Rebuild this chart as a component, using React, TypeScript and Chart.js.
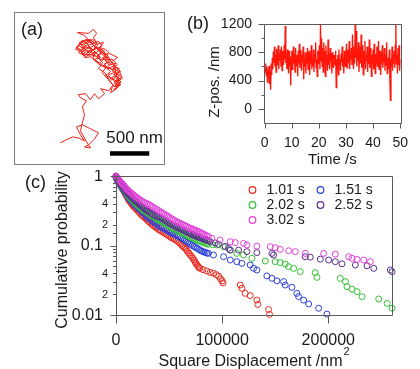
import { useEffect, useRef } from 'react';
import { Chart, registerables } from 'chart.js';

Chart.register(...registerables);

const FONT = '"Liberation Sans", Arial, Helvetica, sans-serif';
const TEXT = '#1a1a1a';
const AXIS = '#5a5a5a';

// ---------- (a) lateral trajectory, nm ----------
const TRAJ_X_NM = [
  589, 666, 742, 819, 896, 845, 794, 870, 973, 1075,
  1024, 947, 896, 973, 922, 845, 870, 896, 870, 922,
  845, 819, 909, 973, 1024, 1075, 1152, 1101, 1203, 1254,
  1229, 1306, 1280, 1344, 1267, 1357, 1293, 1242, 1318, 1216,
  1165, 1088, 1139, 1037, 986, 909, 832, 781, 883, 960,
  1037, 1101, 1011, 1088, 1178, 1229, 1165, 1254, 1331, 1280,
  1216, 1152, 1075, 1126, 1050, 973, 896, 819, 922, 998,
  1062, 1011, 1050, 1011, 947, 806, 896, 973, 1075, 1190,
  1254, 1331, 1370, 1306, 1357, 1267,
  1330, 1290, 1360, 1300, 1240, 1200, 1280, 1340, 1260, 1190,
  1150, 1230, 1180, 1100, 1060, 1140, 1080, 1000, 940, 1020,
  960, 880, 820, 900, 860, 960, 1040, 1000, 1090, 1150,
  1210, 1290, 1250, 1330, 1380, 1310, 1350, 1270, 1230, 1180,
  1120, 1170, 1100, 1040, 980, 900, 850, 790, 850, 930,
  1000, 1070, 1120, 1060, 1130, 1200, 1160, 1250, 1310, 1260,
  1330, 1290, 1360, 1300,
  1318, 1242, 1306, 1229, 1139, 1203, 1126, 1050, 922, 986, 858, 947,
  900, 860, 830, 880, 920, 980, 1010, 960, 900, 850,
  800, 840, 890, 940, 1000, 1050, 1020, 1080, 1040, 980,
  930, 880, 940, 1000, 1060, 1110, 1090, 1140, 1170, 1120,
  1180, 1230, 1190, 1260, 1300, 1280, 1340, 1300, 1350, 1310,
];
const TRAJ_Y_NM = [
  282, 320, 358, 346, 307, 384, 486, 512, 461, 410,
  333, 256, 230, 218, 294, 435, 538, 640, 742, 819,
  858, 896, 909, 832, 909, 845, 909, 973, 947, 1011,
  922, 973, 1050, 1101, 1152, 1190, 1254, 1318, 1370, 1421,
  1472, 1498, 1562, 1536, 1587, 1600, 1536, 1472, 1446, 1510,
  1434, 1370, 1344, 1293, 1242, 1190, 1139, 1101, 1050, 998,
  1075, 1178, 1229, 1306, 1382, 1408, 1485, 1434, 1382, 1459,
  1523, 1626, 1677, 1728, 1677, 1690, 1651, 1562, 1472, 1395,
  1280, 1216, 1126, 1075, 1024, 960,
  1000, 1060, 1090, 1130, 1080, 1150, 1180, 1230, 1260, 1220,
  1290, 1320, 1380, 1340, 1400, 1440, 1500, 1460, 1520, 1560,
  1600, 1570, 1520, 1480, 1420, 1400, 1440, 1360, 1300, 1360,
  1270, 1300, 1200, 1160, 1110, 1060, 1020, 1000, 1050, 1110,
  1180, 1240, 1270, 1320, 1380, 1370, 1450, 1500, 1560, 1590,
  1540, 1580, 1520, 1470, 1400, 1420, 1340, 1350, 1280, 1230,
  1190, 1120, 1060, 980,
  1011, 1114, 1152, 1229, 1267, 1331, 1434, 1498, 1421, 1485, 1498, 1536,
  1560, 1520, 1560, 1590, 1550, 1570, 1520, 1490, 1510, 1470,
  1500, 1540, 1530, 1580, 1600, 1560, 1500, 1470, 1420, 1440,
  1460, 1420, 1400, 1410, 1380, 1420, 1480, 1460, 1400, 1360,
  1320, 1290, 1250, 1210, 1250, 1170, 1140, 1090, 1050, 1020,
];
const SCALE_BAR_NM = 500;
const SCALE_BAR_LABEL = '500 nm';

// ---------- (b) Z position vs time ----------
const FRAME_INTERVAL_S = 0.2;
const Z_POS_NM = [
  580, 520, 640, 470, 600, 380, 560, 430, 610, 350,
  520, 270, 640, 480, 720, 560, 810, 650, 880, 600,
  760, 520, 850, 700, 620, 900, 560, 780, 680, 840,
  600, 880, 540, 760, 820, 620, 900, 700, 1170, 650,
  780, 560, 840, 660, 500, 820, 600, 740, 330, 680,
  820, 560, 720, 880, 640, 780, 520, 860, 700, 600,
  760, 460, 820, 640, 920, 580, 700, 830, 540, 760,
  660, 880, 420, 720, 600, 800, 500, 740, 640, 860,
  560, 700, 820, 480, 760, 640, 900, 560, 720, 600,
  840, 520, 780, 660, 940, 580, 700, 460, 820, 640,
  760, 900, 560, 1200, 680, 1000, 600, 860, 520, 940,
  700, 820, 460, 900, 640, 760, 540, 980, 620, 780,
  560, 860, 680, 720, 500, 800, 640, 580, 760, 680,
  620, 820, 300, 700, 560, 760, 480, 840, 620, 700,
  540, 780, 660, 880, 600, 720, 500, 820, 680, 600,
  760, 920, 580, 700, 840, 640, 960, 560, 780, 700,
  860, 620, 1050, 700, 560, 880, 640, 1200, 720, 1100,
  600, 820, 680, 940, 520, 760, 880, 640, 1050, 580,
  900, 700, 480, 820, 640, 960, 560, 760, 680, 880,
  520, 800, 640, 980, 580, 720, 860, 460, 760, 640,
  840, 560, 920, 680, 500, 780, 640, 880, 600, 740,
  960, 560, 700, 820, 480, 760, 640, 900, 580, 720,
  660, 860, 540, 780, 620, 940, 500, 720, 680, 560,
  840, 400, 120, 700, 600, 880, 540, 760, 640, 820,
  580, 900, 1200, 640, 760, 500, 860, 620, 900, 540,
  700,
];
const TIME_TICKS_S = [0, 10, 20, 30, 40, 50];
const Z_TICKS_NM = [0, 400, 800, 1200];
const Z_MINOR_TICKS_NM = [200, 600, 1000];

// ---------- (c) cumulative probability of square displacement ----------
const LAG_LABELS = ['1.01 s', '1.51 s', '2.02 s', '2.52 s', '3.02 s'];
const CDF_LAG_1_01 = [
  [0, 1.0], [1500, 0.88], [3000, 0.8], [4500, 0.72], [6000, 0.66], [8000, 0.58], [10000, 0.51], [12000, 0.45],
  [14000, 0.41], [16000, 0.37], [18500, 0.34], [21000, 0.31], [23500, 0.28], [26000, 0.26], [28500, 0.24],
  [31000, 0.22], [34000, 0.2], [37000, 0.185], [40000, 0.17], [43000, 0.16], [46000, 0.15], [49000, 0.14],
  [52000, 0.13], [55000, 0.124], [58000, 0.115], [61000, 0.105], [63500, 0.096], [66000, 0.088], [68500, 0.078],
  [71000, 0.07], [73500, 0.062], [75500, 0.055], [77500, 0.05], [79000, 0.047],
  [750, 0.94], [2200, 0.84], [3700, 0.76], [5200, 0.69], [7000, 0.62], [9000, 0.545], [11000, 0.48], [13000, 0.43],
  [15000, 0.39], [17200, 0.355], [19700, 0.325], [22200, 0.295], [24700, 0.27], [27200, 0.25], [29700, 0.23],
  [32500, 0.21], [35500, 0.192], [38500, 0.178], [41500, 0.165], [44500, 0.155], [47500, 0.145], [50500, 0.135],
  [53500, 0.127], [56500, 0.119], [59500, 0.11], [62200, 0.1], [64700, 0.092], [67200, 0.083], [69700, 0.074],
  [72200, 0.066], [74500, 0.058], [76500, 0.052], [78200, 0.048],
  [82000, 0.045], [85500, 0.043],
  [88700, 0.041], [91800, 0.04], [94500, 0.038], [96800, 0.036], [98500, 0.033], [100000, 0.031], [100800, 0.029],
  [117000, 0.027], [118600, 0.0242], [121700, 0.0205], [126400, 0.019], [132700, 0.0164], [133600, 0.0142],
  [143700, 0.012], [144600, 0.0102],
];
const CDF_LAG_1_51 = [
  [0, 0.95], [1500, 0.85], [3000, 0.78], [5000, 0.7], [7000, 0.63], [9000, 0.57], [11000, 0.51], [13000, 0.46],
  [15500, 0.42], [18000, 0.38], [20500, 0.35], [23000, 0.32], [26000, 0.29], [29000, 0.26], [32000, 0.24],
  [35000, 0.22], [38500, 0.2], [42000, 0.185], [45000, 0.175], [48000, 0.165], [51000, 0.155], [54000, 0.148],
  [57000, 0.14], [60000, 0.132], [63000, 0.124], [66000, 0.116], [69000, 0.108], [72000, 0.1], [75000, 0.094],
  [78000, 0.088], [81000, 0.083], [84000, 0.08], [87000, 0.077],
  [750, 0.9], [2200, 0.81], [4000, 0.74], [6000, 0.665], [8000, 0.6], [10000, 0.54], [12000, 0.485], [14200, 0.44],
  [16700, 0.4], [19200, 0.365], [21700, 0.335], [24500, 0.305], [27500, 0.275], [30500, 0.25], [33500, 0.23],
  [36700, 0.21], [40200, 0.192], [43500, 0.18], [46500, 0.17], [49500, 0.16], [52500, 0.151], [55500, 0.144],
  [58500, 0.136], [61500, 0.128], [64500, 0.12], [67500, 0.112], [70500, 0.104], [73500, 0.097], [76500, 0.091],
  [79500, 0.085], [82500, 0.081], [85500, 0.078],
  [91800, 0.073], [101300, 0.069], [107600, 0.0618],
  [113800, 0.0585], [118600, 0.0553], [126400, 0.0524], [129600, 0.0469], [132700, 0.0444], [142100, 0.0365],
  [146900, 0.0337], [151600, 0.031], [157900, 0.0302], [159400, 0.027], [165700, 0.025], [170400, 0.0205],
  [172000, 0.0184], [176700, 0.0164], [181500, 0.0144], [190900, 0.0125], [198700, 0.0103],
];
const CDF_LAG_2_02 = [
  [0, 0.96], [1500, 0.87], [3000, 0.8], [5000, 0.72], [7000, 0.66], [9000, 0.6], [11000, 0.54], [13000, 0.49],
  [15500, 0.45], [18000, 0.41], [20500, 0.38], [23000, 0.35], [26000, 0.32], [29000, 0.3], [32000, 0.28],
  [35000, 0.26], [38500, 0.24], [42000, 0.225], [45000, 0.21], [48000, 0.2], [51000, 0.185], [54000, 0.175],
  [57000, 0.165], [60000, 0.157], [63000, 0.15], [66000, 0.142], [69000, 0.135], [72000, 0.128], [75000, 0.122],
  [78000, 0.117], [81000, 0.112], [84000, 0.108], [87000, 0.104],
  [750, 0.91], [2200, 0.83], [4000, 0.76], [6000, 0.69], [8000, 0.63], [10000, 0.57], [12000, 0.515], [14200, 0.47],
  [16700, 0.43], [19200, 0.395], [21700, 0.365], [24500, 0.335], [27500, 0.31], [30500, 0.29], [33500, 0.27],
  [36700, 0.25], [40200, 0.232], [43500, 0.217], [46500, 0.205], [49500, 0.192], [52500, 0.18], [55500, 0.17],
  [58500, 0.161], [61500, 0.153], [64500, 0.146], [67500, 0.138], [70500, 0.131], [73500, 0.125], [76500, 0.119],
  [79500, 0.114], [82500, 0.11], [85500, 0.106], [91000, 0.103],
  [95000, 0.1017], [101300, 0.096], [107600, 0.086],
  [113800, 0.077], [120100, 0.073], [128000, 0.0653], [140600, 0.0598], [150000, 0.0585], [154700, 0.0566],
  [159400, 0.0541], [162600, 0.0496], [167300, 0.0469], [173600, 0.042], [187700, 0.0407], [189300, 0.0348],
  [211300, 0.0337], [216100, 0.0302], [217600, 0.0256], [222300, 0.0235], [227100, 0.0217], [231800, 0.0184],
  [247500, 0.017], [255400, 0.0147], [260100, 0.0125],
];
const CDF_LAG_2_52 = [
  [0, 0.97], [1500, 0.89], [3000, 0.82], [5000, 0.75], [7000, 0.68], [9000, 0.62], [11000, 0.57], [13000, 0.52],
  [15500, 0.48], [18000, 0.44], [20500, 0.41], [23000, 0.38], [26000, 0.35], [29000, 0.32], [32000, 0.3],
  [35000, 0.28], [38500, 0.265], [42000, 0.25], [45000, 0.235], [48000, 0.22], [51000, 0.205], [54000, 0.195],
  [57000, 0.185], [60000, 0.175], [63000, 0.167], [66000, 0.158], [69000, 0.15], [72000, 0.143], [75000, 0.137],
  [78000, 0.132], [81000, 0.127], [84000, 0.122], [87000, 0.117],
  [750, 0.93], [2200, 0.85], [4000, 0.78], [6000, 0.71], [8000, 0.65], [10000, 0.59], [12000, 0.545], [14200, 0.5],
  [16700, 0.46], [19200, 0.425], [21700, 0.395], [24500, 0.365], [27500, 0.335], [30500, 0.31], [33500, 0.29],
  [36700, 0.272], [40200, 0.257], [43500, 0.242], [46500, 0.227], [49500, 0.212], [52500, 0.2], [55500, 0.19],
  [58500, 0.18], [61500, 0.171], [64500, 0.162], [67500, 0.154], [70500, 0.146], [73500, 0.14], [76500, 0.134],
  [79500, 0.129], [82500, 0.124], [85500, 0.12],
  [88700, 0.1135], [93400, 0.109], [96500, 0.104],
  [102800, 0.097], [106000, 0.091], [107600, 0.086], [115400, 0.086], [123300, 0.0815], [132700, 0.079],
  [146900, 0.077], [148400, 0.073], [178300, 0.069], [183000, 0.068], [192500, 0.0637], [200300, 0.0618],
  [206600, 0.0585], [212900, 0.0545], [225500, 0.0524], [236500, 0.0511], [242800, 0.0469], [258500, 0.0444],
  [260100, 0.042],
];
const CDF_LAG_3_02 = [
  [0, 1.0], [1500, 0.93], [3000, 0.87], [5000, 0.8], [7000, 0.74], [9000, 0.68], [11000, 0.63], [13000, 0.59],
  [15500, 0.55], [18000, 0.51], [20500, 0.48], [23000, 0.45], [26000, 0.42], [29000, 0.4], [32000, 0.38],
  [35000, 0.355], [38500, 0.33], [42000, 0.305], [45000, 0.285], [48000, 0.27], [51000, 0.25], [54000, 0.235],
  [57000, 0.22], [60000, 0.21], [63000, 0.2], [66000, 0.19], [69000, 0.18], [72000, 0.172], [75000, 0.165],
  [78000, 0.158], [81000, 0.15], [84000, 0.142], [87000, 0.135],
  [750, 0.96], [2200, 0.9], [4000, 0.83], [6000, 0.77], [8000, 0.71], [10000, 0.655], [12000, 0.61], [14200, 0.57],
  [16700, 0.53], [19200, 0.495], [21700, 0.465], [24500, 0.435], [27500, 0.41], [30500, 0.39], [33500, 0.368],
  [36700, 0.342], [40200, 0.318], [43500, 0.295], [46500, 0.277], [49500, 0.26], [52500, 0.242], [55500, 0.228],
  [58500, 0.215], [61500, 0.205], [64500, 0.195], [67500, 0.185], [70500, 0.176], [73500, 0.168], [76500, 0.161],
  [79500, 0.154], [82500, 0.146], [85500, 0.138],
  [90300, 0.127], [98100, 0.12], [107600, 0.1135],
  [112300, 0.11], [120100, 0.107], [123300, 0.1017], [132700, 0.098], [145300, 0.096], [150000, 0.093],
  [154700, 0.088], [162600, 0.084], [168900, 0.0815], [178300, 0.077], [195600, 0.077], [206600, 0.075],
  [219200, 0.069], [222300, 0.0653], [227100, 0.063], [233300, 0.0618], [239600, 0.0585],
];
const CDF_SERIES = [CDF_LAG_1_01, CDF_LAG_1_51, CDF_LAG_2_02, CDF_LAG_2_52, CDF_LAG_3_02];
const SD_TICKS_NM2 = [0, 100000, 200000];
const CDF_LABEL_VALUES = [1, 0.4, 0.2, 0.1, 0.04, 0.02, 0.01];
const CDF_LABEL_TEXTS = ['1', '4', '2', '0.1', '4', '2', '0.01'];
const CDF_MAJOR_VALUES = [1, 0.1, 0.01];

const LAG_COLORS = ['#e8281e', '#2b40d6', '#34c134', '#5b2c8f', '#e23fd8'];

const crisp = (v: number) => Math.round(v) + 0.5;

function makeTrajectory(canvas: HTMLCanvasElement) {
  const decor = {
    id: 'trajDecor',
    afterDraw(chart: any) {
      const { ctx, chartArea: a, scales } = chart;
      const x = scales.x;
      const y = scales.y;
      ctx.save();
      ctx.strokeStyle = '#7a7a7a';
      ctx.lineWidth = 1;
      ctx.strokeRect(a.left + 0.5, a.top + 0.5, a.right - a.left - 1, a.bottom - a.top - 1);
      const x0 = x.getPixelForValue(1220);
      const x1 = x.getPixelForValue(1220 + SCALE_BAR_NM);
      const yb = y.getPixelForValue(150);
      ctx.fillStyle = '#000';
      ctx.fillRect(x0, yb - 2, x1 - x0, 4.5);
      ctx.fillStyle = TEXT;
      ctx.font = `17px ${FONT}`;
      ctx.textAlign = 'center';
      ctx.textBaseline = 'middle';
      ctx.fillText(SCALE_BAR_LABEL, (x0 + x1) / 2 + 5, yb - 14.5);
      ctx.textAlign = 'left';
      ctx.font = `18px ${FONT}`;
      ctx.fillText('(a)', 7, 18);
      ctx.restore();
    },
  };
  return new Chart(canvas, {
    type: 'scatter',
    data: {
      datasets: [
        {
          data: TRAJ_X_NM.map((xv, i) => ({ x: xv, y: TRAJ_Y_NM[i] })),
          showLine: true,
          borderColor: 'rgb(240,30,20)',
          borderWidth: 1,
          pointRadius: 0,
          tension: 0,
        },
      ],
    },
    options: {
      animation: false,
      responsive: false,
      layout: { padding: 0 },
      plugins: { legend: { display: false }, tooltip: { enabled: false } },
      scales: {
        x: { type: 'linear', display: false, min: 0, max: 1920 },
        y: { type: 'linear', display: false, min: 0, max: 1950 },
      },
    },
    plugins: [decor],
  } as any);
}

function makeZTrace(canvas: HTMLCanvasElement) {
  const decor = {
    id: 'zDecor',
    afterDatasetsDraw(chart: any) {
      const { ctx, chartArea: a, scales } = chart;
      const x = scales.x;
      const y = scales.y;
      ctx.save();
      ctx.strokeStyle = AXIS;
      ctx.lineWidth = 1;
      const L = crisp(a.left), R = crisp(a.right), T = crisp(a.top), B = crisp(a.bottom);
      ctx.beginPath();
      ctx.moveTo(L, T); ctx.lineTo(R, T); ctx.lineTo(R, B); ctx.lineTo(L, B); ctx.closePath();
      for (const v of Z_TICKS_NM) { const p = crisp(y.getPixelForValue(v)); ctx.moveTo(L - 6, p); ctx.lineTo(L, p); }
      for (const v of Z_MINOR_TICKS_NM) { const p = crisp(y.getPixelForValue(v)); ctx.moveTo(L - 3, p); ctx.lineTo(L, p); }
      for (const v of TIME_TICKS_S) { const p = crisp(x.getPixelForValue(v)); ctx.moveTo(p, B); ctx.lineTo(p, B + 5); }
      ctx.stroke();
      ctx.fillStyle = TEXT;
      ctx.textBaseline = 'middle';
      ctx.textAlign = 'left';
      ctx.font = `18px ${FONT}`;
      ctx.fillText('(b)', 17, 24);
      ctx.font = `15px ${FONT}`;
      ctx.textAlign = 'center';
      ctx.fillText('Time /s', (a.left + a.right) / 2, 160);
      ctx.translate(45, 82);
      ctx.rotate(-Math.PI / 2);
      ctx.fillText('Z-pos. /nm', 0, 0);
      ctx.restore();
    },
  };
  const tickFont = { family: FONT, size: 14 };
  return new Chart(canvas, {
    type: 'scatter',
    data: {
      datasets: [
        {
          data: Z_POS_NM.map((z, i) => ({ x: i * FRAME_INTERVAL_S, y: z })),
          showLine: true,
          borderColor: 'rgb(255,22,10)',
          borderWidth: 1.3,
          pointRadius: 0,
          tension: 0,
        },
      ],
    },
    options: {
      animation: false,
      responsive: false,
      layout: { padding: { top: 24, right: 9, left: 0, bottom: 0 } },
      plugins: { legend: { display: false }, tooltip: { enabled: false } },
      scales: {
        x: {
          type: 'linear', min: -0.25, max: 50.25,
          afterBuildTicks: (s: any) => { s.ticks = TIME_TICKS_S.map((v) => ({ value: v })); },
          afterFit: (s: any) => { s.height = 47; },
          grid: { display: false, drawTicks: false },
          border: { display: false },
          ticks: { font: tickFont, color: TEXT, padding: 12, maxRotation: 0, autoSkip: false, callback: (v: any) => String(v) },
        },
        y: {
          type: 'linear', min: -200, max: 1200,
          afterBuildTicks: (s: any) => { s.ticks = Z_TICKS_NM.map((v) => ({ value: v })); },
          afterFit: (s: any) => { s.width = 94; },
          grid: { display: false, drawTicks: false },
          border: { display: false },
          ticks: { font: tickFont, color: TEXT, padding: 12, autoSkip: false, callback: (v: any) => String(v) },
        },
      },
    },
    plugins: [decor],
  } as any);
}

function makeCdf(canvas: HTMLCanvasElement) {
  const decor = {
    id: 'cdfDecor',
    afterDatasetsDraw(chart: any) {
      const { ctx, chartArea: a, scales } = chart;
      const x = scales.x;
      const y = scales.y;
      ctx.save();
      ctx.strokeStyle = AXIS;
      ctx.lineWidth = 1;
      const L = crisp(a.left), R = crisp(a.right), T = crisp(a.top), B = crisp(a.bottom);
      ctx.beginPath();
      ctx.moveTo(L, T); ctx.lineTo(R, T); ctx.lineTo(R, B); ctx.lineTo(L, B); ctx.closePath();
      for (const t of y.ticks) {
        const v = t.value;
        const lg = Math.log10(v);
        const major = Math.abs(lg - Math.round(lg)) < 1e-6;
        const p = crisp(y.getPixelForValue(v));
        ctx.moveTo(L - (major ? 6 : 3.5), p);
        ctx.lineTo(L, p);
      }
      for (const v of SD_TICKS_NM2) { const p = crisp(x.getPixelForValue(v)); ctx.moveTo(p, B); ctx.lineTo(p, B + 8); }
      ctx.stroke();

      ctx.fillStyle = TEXT;
      ctx.textBaseline = 'middle';
      ctx.textAlign = 'right';
      CDF_LABEL_VALUES.forEach((v, i) => {
        const major = CDF_MAJOR_VALUES.includes(v);
        ctx.font = `${major ? 16 : 11}px ${FONT}`;
        ctx.fillText(CDF_LABEL_TEXTS[i], a.left - (major ? 13 : 8), y.getPixelForValue(v) + 0.5);
      });

      // legend
      ctx.font = `14px ${FONT}`;
      ctx.textAlign = 'left';
      LAG_LABELS.forEach((lab, i) => {
        const col = i % 2;
        const row = Math.floor(i / 2);
        const cx = a.left + 136.5 + col * 68;
        const cy = a.top + 14 + row * 15;
        ctx.beginPath();
        ctx.strokeStyle = LAG_COLORS[i];
        ctx.lineWidth = 1.2;
        ctx.arc(cx, cy, 3.3, 0, Math.PI * 2);
        ctx.stroke();
        ctx.fillStyle = TEXT;
        ctx.fillText(lab, cx + 14, cy + 0.5);
      });

      // titles
      ctx.fillStyle = TEXT;
      ctx.font = `18px ${FONT}`;
      ctx.textAlign = 'left';
      ctx.fillText('(c)', 25, 13);
      ctx.font = `16px ${FONT}`;
      ctx.textAlign = 'center';
      const title = 'Square Displacement /nm';
      const cxTitle = 250.5;
      ctx.fillText(title, cxTitle, 191.5);
      const w = ctx.measureText(title).width;
      ctx.font = `11px ${FONT}`;
      ctx.textAlign = 'left';
      ctx.fillText('2', cxTitle + w / 2 + 1, 181.5);
      ctx.font = `16px ${FONT}`;
      ctx.textAlign = 'center';
      ctx.translate(63, 80);
      ctx.rotate(-Math.PI / 2);
      ctx.fillText('Cumulative probability', 0, 0);
      ctx.restore();
    },
  };
  return new Chart(canvas, {
    type: 'scatter',
    data: {
      datasets: CDF_SERIES.map((pts, i) => ({
        label: LAG_LABELS[i],
        data: pts.map(([v, p]) => ({ x: v, y: p })),
        borderColor: LAG_COLORS[i],
        backgroundColor: 'rgba(0,0,0,0)',
        pointRadius: 3,
        pointBorderWidth: 1,
        showLine: false,
        clip: false,
        order: CDF_SERIES.length - i,
      })),
    },
    options: {
      animation: false,
      responsive: false,
      layout: { padding: { top: 6, right: 28, left: 0, bottom: 0 } },
      plugins: { legend: { display: false }, tooltip: { enabled: false } },
      scales: {
        x: {
          type: 'linear', min: 0, max: 260000,
          afterBuildTicks: (s: any) => { s.ticks = SD_TICKS_NM2.map((v) => ({ value: v })); },
          afterFit: (s: any) => { s.height = 54; },
          grid: { display: false, drawTicks: false },
          border: { display: false },
          ticks: { font: { family: FONT, size: 16 }, color: TEXT, padding: 16, maxRotation: 0, autoSkip: false, callback: (v: any) => String(v) },
        },
        y: {
          type: 'logarithmic', min: 0.01, max: 1,
          afterFit: (s: any) => { s.width = 116; },
          grid: { display: false, drawTicks: false },
          border: { display: false },
          ticks: { display: false, autoSkip: false },
        },
      },
    },
    plugins: [decor],
  } as any);
}

export default function App() {
  const refA = useRef<HTMLCanvasElement>(null);
  const refB = useRef<HTMLCanvasElement>(null);
  const refC = useRef<HTMLCanvasElement>(null);

  useEffect(() => {
    const charts: Chart[] = [];
    if (refA.current) charts.push(makeTrajectory(refA.current));
    if (refB.current) charts.push(makeZTrace(refB.current));
    if (refC.current) charts.push(makeCdf(refC.current));
    return () => charts.forEach((c) => c.destroy());
  }, []);

  return (
    <div style={{ position: 'absolute', left: 0, top: 0, width: 420, height: 369, background: '#fff', overflow: 'hidden' }}>
      <canvas ref={refA} width={151} height={153} style={{ position: 'absolute', left: 14, top: 12, width: 151, height: 153 }} />
      <canvas ref={refB} width={250} height={170} style={{ position: 'absolute', left: 170, top: 0, width: 250, height: 170 }} />
      <canvas ref={refC} width={420} height={199} style={{ position: 'absolute', left: 0, top: 170, width: 420, height: 199 }} />
    </div>
  );
}
